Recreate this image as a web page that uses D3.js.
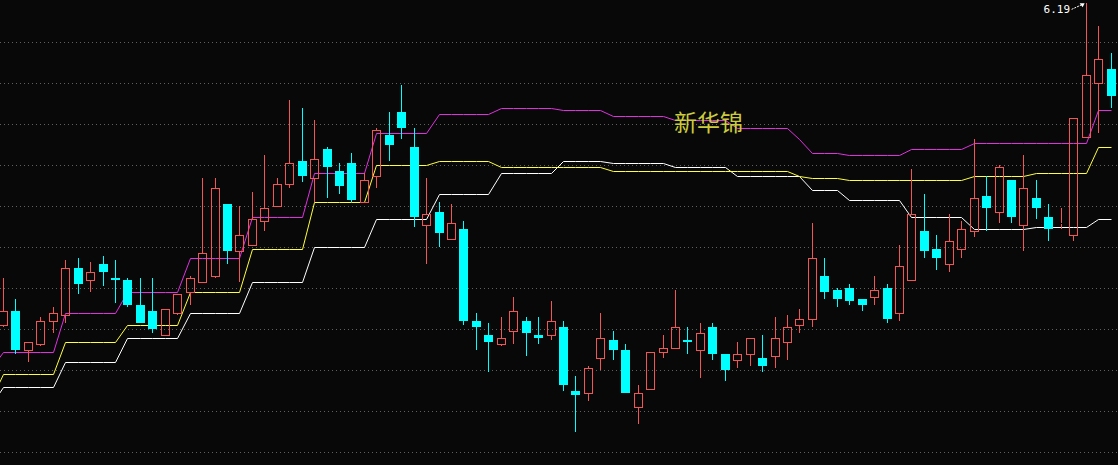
<!DOCTYPE html>
<html>
<head>
<meta charset="utf-8">
<script src="https://cdn.jsdelivr.net/npm/d3@7"></script>
<style>
  html, body { margin: 0; padding: 0; background: #080808; overflow: hidden; }
  svg { display: block; }
</style>
</head>
<body>
<svg id="chart" width="1118" height="465"></svg>
<script>
// ---- data ----
const title = "新华锦";
const highLabel = "6.19";
const gridValues = [6.0, 5.8, 5.6, 5.4, 5.2, 5.0, 4.8, 4.6, 4.4, 4.2, 4.0];

const openP  = [4.62,4.69,4.50,4.53,4.64,4.67,4.90,4.84,4.92,4.85,
                4.84,4.72,4.69,4.57,4.68,4.78,4.83,4.86,5.21,4.98,
                5.01,5.13,5.20,5.31,5.42,5.34,5.48,5.37,5.41,5.22,
                5.35,5.55,5.66,5.49,5.11,5.17,5.04,5.09,4.64,4.57,
                4.53,4.59,4.64,4.57,4.57,4.61,4.30,4.29,4.46,4.55,
                4.50,4.22,4.31,4.49,4.51,4.55,4.50,4.61,4.48,4.45,
                4.48,4.46,4.47,4.54,4.62,4.65,4.86,4.79,4.80,4.75,
                4.76,4.80,4.68,4.84,5.08,4.99,4.92,4.99,5.08,5.25,
                5.17,5.33,5.11,5.24,5.15,5.12,5.06,5.54,5.80,5.87];
const closeP = [4.69,4.50,4.54,4.64,4.68,4.90,4.82,4.88,4.88,4.84,
                4.72,4.63,4.60,4.70,4.77,4.85,4.97,5.29,4.98,5.06,
                5.14,5.19,5.31,5.41,5.35,5.43,5.39,5.30,5.23,5.33,
                5.57,5.50,5.58,5.15,5.16,5.07,5.12,4.64,4.61,4.54,
                4.56,4.69,4.58,4.56,4.64,4.33,4.28,4.41,4.56,4.50,
                4.29,4.29,4.49,4.51,4.61,4.54,4.58,4.48,4.40,4.48,
                4.56,4.42,4.56,4.61,4.65,4.95,4.78,4.75,4.74,4.72,
                4.79,4.65,4.91,5.16,4.98,4.95,5.03,5.09,5.24,5.19,
                5.39,5.15,5.29,5.19,5.09,5.12,5.63,5.84,5.92,5.74];
const highP  = [4.85,4.75,4.54,4.66,4.71,4.94,4.95,4.93,4.96,4.94,
                4.85,4.85,4.85,4.70,4.77,4.86,5.34,5.34,5.21,5.20,
                5.27,5.45,5.34,5.72,5.68,5.62,5.49,5.41,5.46,5.36,
                5.58,5.66,5.79,5.58,5.34,5.22,5.21,5.13,4.68,4.63,
                4.66,4.76,4.66,4.66,4.74,4.64,4.37,4.42,4.68,4.59,
                4.53,4.33,4.49,4.57,4.79,4.61,4.63,4.63,4.48,4.54,
                4.56,4.57,4.66,4.67,4.70,5.12,4.95,4.80,4.82,4.75,
                4.86,4.82,5.01,5.38,5.26,5.06,5.16,5.13,5.53,5.35,
                5.40,5.33,5.45,5.33,5.21,5.19,5.63,6.19,6.08,5.95];
const lowP   = [4.61,4.48,4.44,4.52,4.58,4.63,4.77,4.78,4.81,4.73,
                4.71,4.63,4.58,4.57,4.67,4.72,4.83,4.85,4.92,4.83,
                5.01,5.08,5.20,5.29,5.32,5.22,5.24,5.26,5.22,5.22,
                5.29,5.42,5.53,5.10,4.92,5.00,5.04,4.62,4.50,4.39,
                4.52,4.53,4.47,4.53,4.55,4.30,4.10,4.25,4.40,4.45,
                4.29,4.14,4.31,4.46,4.51,4.48,4.36,4.45,4.35,4.41,
                4.42,4.39,4.41,4.45,4.58,4.61,4.75,4.71,4.72,4.69,
                4.72,4.63,4.64,4.84,4.95,4.89,4.88,4.95,5.05,5.08,
                5.12,5.12,4.98,5.14,5.03,5.09,5.03,5.54,5.56,5.68];

// indicator lines: first value belongs to the bar just before the first visible one
const upperLine  = [4.41,
  4.49,4.49,4.49,4.49,4.49, 4.68,4.68,4.68,4.68,4.68,
  4.78,4.78,4.78,4.78,4.78, 4.95,4.95,4.95,4.95,4.95,
  5.15,5.15,5.15,5.15,5.15, 5.36,5.36,5.36,5.36,5.36,
  5.56,5.56,5.56,5.56,5.56, 5.65,5.65,5.65,5.65,5.65,
  5.68,5.68,5.68,5.68,5.68, 5.67,5.67,5.67,5.67,
  5.64,5.64,5.64,5.64,5.64, 5.62,5.62,5.62,5.62,5.62,
  5.58,5.58,5.58,5.58,5.58, 5.53,
  5.46,5.46,5.46, 5.45,5.45,5.45,5.45,5.45,
  5.48,5.48,5.48,5.48,5.48,
  5.51,5.51,5.51,5.51,5.51,5.51,5.51,5.51,5.51,5.51,
  5.67,5.67];
const middleLine = [4.26,
  4.38,4.38,4.38,4.38,4.38, 4.54,4.54,4.54,4.54,4.54,
  4.62,4.62,4.62,4.62,4.62, 4.78,4.78,4.78,4.78,4.78,
  4.99,4.99,4.99,4.99,4.99, 5.22,5.22,5.22,5.22,5.22,
  5.40,5.40,5.40,5.40,5.40, 5.42,5.42,5.42,5.42,5.42,
  5.39,5.39,5.39,5.39,5.39,5.39,5.39,5.39,5.39,
  5.37,5.37,5.37,5.37,5.37,5.37,5.37,5.37,5.37,5.37,5.37,5.37,5.37,5.37,5.37,
  5.35, 5.34,5.34,5.34,
  5.33,5.33,5.33,5.33,5.33,5.33,5.33,5.33,5.33,5.33,
  5.35,5.35,5.35,5.35,5.35, 5.36,5.36,5.36,5.36,5.36,
  5.49,5.49];
const lowerLine  = [4.23,
  4.32,4.32,4.32,4.32,4.32, 4.44,4.44,4.44,4.44,4.44,
  4.56,4.56,4.56,4.56,4.56, 4.68,4.68,4.68,4.68,4.68,
  4.83,4.83,4.83,4.83,4.83, 5.00,5.00,5.00,5.00,5.00,
  5.14,5.14,5.14,5.14,5.14, 5.26,5.26,5.26,5.26,5.26,
  5.36,5.36,5.36,5.36,5.36, 5.42,5.42,5.42,5.42,
  5.41,5.41,5.41,5.41,5.41, 5.39,5.39,5.39,5.39,5.39,
  5.35,5.35,5.35,5.35,5.35,5.35,
  5.28,5.28,5.28, 5.23,5.23,5.23,5.23,5.23,
  5.15,5.15,5.15,5.15,5.15, 5.09,5.09,5.09,5.09,5.09,
  5.10,5.10,5.10,5.10,5.10, 5.14,5.14];

// ---- drawing ----
const W = 1118, H = 465;
const svg = d3.select("#chart");
svg.append("rect").attr("width", W).attr("height", H).attr("fill", "#080808");

const n = openP.length;
const x = d3.scaleLinear().domain([0, n - 1]).range([3, 1110.5]);
const y = d3.scaleLinear().domain([4.0, 6.0]).range([452.3, 42.3]);

const UP = "#f25555", DOWN = "#00ffff";

// grid
svg.append("g").selectAll("line").data(gridValues).join("line")
  .attr("x1", 0).attr("x2", W)
  .attr("y1", d => Math.round(y(d)) + 0.5).attr("y2", d => Math.round(y(d)) + 0.5)
  .attr("stroke", "#606060").attr("stroke-width", 1)
  .attr("stroke-dasharray", "1,3");

// indicator lines
const lineGen = d3.line()
  .x((d, i) => Math.round(x(i - 1)) + 0.5)
  .y(d => Math.round(y(d)) + 0.5);
const lineDefs = [
  {data: lowerLine, color: "#ffffff"},
  {data: middleLine, color: "#ffff3c"},
  {data: upperLine, color: "#e030e0"}
];
const gl = svg.append("g");
lineDefs.forEach(l => {
  gl.append("path").attr("d", lineGen(l.data))
    .attr("fill", "none").attr("stroke", l.color).attr("stroke-width", 1);
});

// candles
const candles = d3.range(n).map(i => ({
  i, o: openP[i], c: closeP[i], h: highP[i], l: lowP[i], up: closeP[i] >= openP[i]
}));
const gc = svg.append("g");
candles.forEach(d => {
  const cx = Math.round(x(d.i));
  const yTop = Math.round(y(Math.max(d.o, d.c)));
  const yBot = Math.round(y(Math.min(d.o, d.c)));
  const yH = Math.round(y(d.h));
  const yL = Math.round(y(d.l));
  if (d.up) {
    if (yH < yTop) gc.append("line").attr("x1", cx + 0.5).attr("x2", cx + 0.5)
      .attr("y1", yH).attr("y2", yTop).attr("stroke", UP);
    if (yL > yBot) gc.append("line").attr("x1", cx + 0.5).attr("x2", cx + 0.5)
      .attr("y1", yBot + 1).attr("y2", yL).attr("stroke", UP);
    gc.append("rect").attr("x", cx - 4 + 0.5).attr("y", yTop + 0.5)
      .attr("width", 8).attr("height", Math.max(0, yBot - yTop))
      .attr("fill", "none").attr("stroke", UP).attr("stroke-width", 1);
  } else {
    gc.append("line").attr("x1", cx + 0.5).attr("x2", cx + 0.5)
      .attr("y1", yH).attr("y2", yL).attr("stroke", DOWN);
    gc.append("rect").attr("x", cx - 4).attr("y", yTop)
      .attr("width", 9).attr("height", Math.max(2, yBot - yTop))
      .attr("fill", DOWN);
  }
});

// title
svg.append("text").attr("x", 674).attr("y", 131)
  .attr("font-family", "'Noto Sans CJK SC', sans-serif")
  .attr("font-size", 23).attr("fill", "#cccc3c")
  .text(title);

// high label with arrow
const iMax = d3.maxIndex(highP);
const hx = x(iMax), hy = y(highP[iMax]);
svg.append("text").attr("x", hx - 42).attr("y", hy + 10)
  .attr("font-family", "'DejaVu Sans Mono', monospace")
  .attr("font-size", 11).attr("fill", "#ffffff")
  .text(highLabel);
svg.append("line").attr("x1", hx - 14).attr("y1", hy + 6)
  .attr("x2", hx - 3).attr("y2", hy + 1)
  .attr("stroke", "#ffffff").attr("stroke-width", 1).attr("stroke-dasharray", "2,1");
svg.append("path")
  .attr("d", `M${hx - 1},${hy} L${hx - 6},${hy} L${hx - 3},${hy + 4} Z`)
  .attr("fill", "#ffffff");
</script>
</body>
</html>
